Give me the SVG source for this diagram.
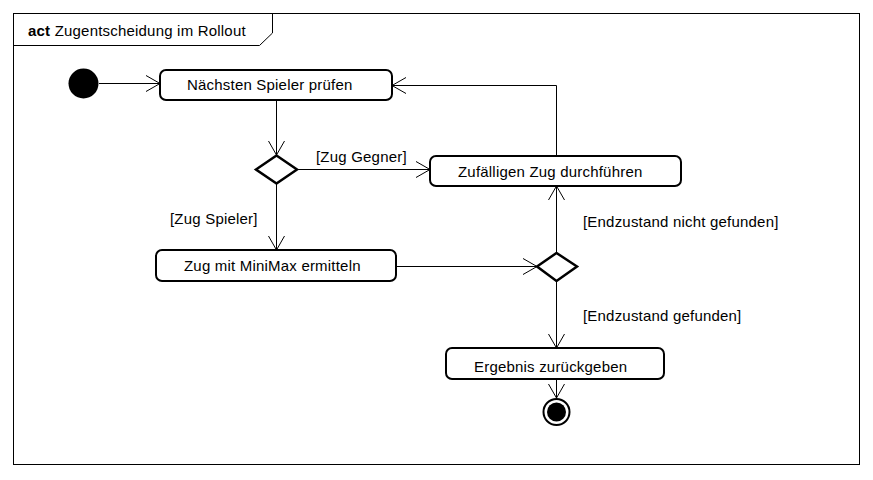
<svg xmlns="http://www.w3.org/2000/svg" width="873" height="480" viewBox="0 0 873 480">
<style>
text{font-family:"Liberation Sans",Arial,sans-serif;font-size:15px;letter-spacing:0.2px;fill:#000}
.box{fill:#fff;stroke:#000;stroke-width:2}
.dia{fill:#fff;stroke:#000;stroke-width:2.5}
.edge{fill:none;stroke:#000;stroke-width:1}
</style>
<defs>
<marker id="arr" markerWidth="16" markerHeight="18" refX="15" refY="9" orient="auto" markerUnits="userSpaceOnUse">
<path d="M1,1 L15,9 L1,17" fill="none" stroke="#000" stroke-width="1"/>
</marker>
</defs>
<rect x="0" y="0" width="873" height="480" fill="#fff"/>
<g id="frame">
<rect x="13.5" y="13.5" width="846" height="451" fill="none" stroke="#000" stroke-width="1"/>
<path d="M13.5,45.5 H259.5 L272.5,33 V13.5" fill="none" stroke="#000" stroke-width="1"/>
<text x="28" y="36"><tspan font-weight="bold">act</tspan> Zugentscheidung im Rollout</text>
</g>
<g id="connectors">
<path class="edge" d="M99,83.5 H160" marker-end="url(#arr)"/>
<path class="edge" d="M276.5,100 V155" marker-end="url(#arr)"/>
<path class="edge" d="M297,169.5 H430" marker-end="url(#arr)"/>
<text x="316" y="162">[Zug Gegner]</text>
<path class="edge" d="M276.5,183 V250" marker-end="url(#arr)"/>
<text x="170" y="224">[Zug Spieler]</text>
<path class="edge" d="M556.5,156 V85.5 H392" marker-end="url(#arr)"/>
<path class="edge" d="M396,266.5 H537" marker-end="url(#arr)"/>
<path class="edge" d="M556.5,253 V186" marker-end="url(#arr)"/>
<text x="583" y="227">[Endzustand nicht gefunden]</text>
<path class="edge" d="M556.5,281 V348" marker-end="url(#arr)"/>
<text x="583" y="321">[Endzustand gefunden]</text>
<path class="edge" d="M556.5,379 V398" marker-end="url(#arr)"/>
</g>
<g id="start">
<circle cx="83.5" cy="83.5" r="15" fill="#000"/>
</g>
<g id="n1">
<rect class="box" x="160" y="70" width="232" height="30" rx="6"/>
<text x="187" y="90">Nächsten Spieler prüfen</text>
</g>
<g id="d1">
<polygon class="dia" points="256,169.5 276.5,155.5 297,169.5 276.5,183.5"/>
</g>
<g id="n2">
<rect class="box" x="430" y="156" width="251" height="30" rx="6"/>
<text x="458" y="177">Zufälligen Zug durchführen</text>
</g>
<g id="n3">
<rect class="box" x="156" y="250" width="240" height="31" rx="6"/>
<text x="184" y="271">Zug mit MiniMax ermitteln</text>
</g>
<g id="d2">
<polygon class="dia" points="537,266.5 556.5,253 577,266.5 556.5,281"/>
</g>
<g id="n4">
<rect class="box" x="446" y="348" width="218" height="31" rx="6"/>
<text x="474" y="372">Ergebnis zurückgeben</text>
</g>
<g id="end">
<circle cx="556.5" cy="412" r="13" fill="#fff" stroke="#000" stroke-width="2"/>
<circle cx="556.5" cy="412" r="9.5" fill="#000"/>
</g>
</svg>
